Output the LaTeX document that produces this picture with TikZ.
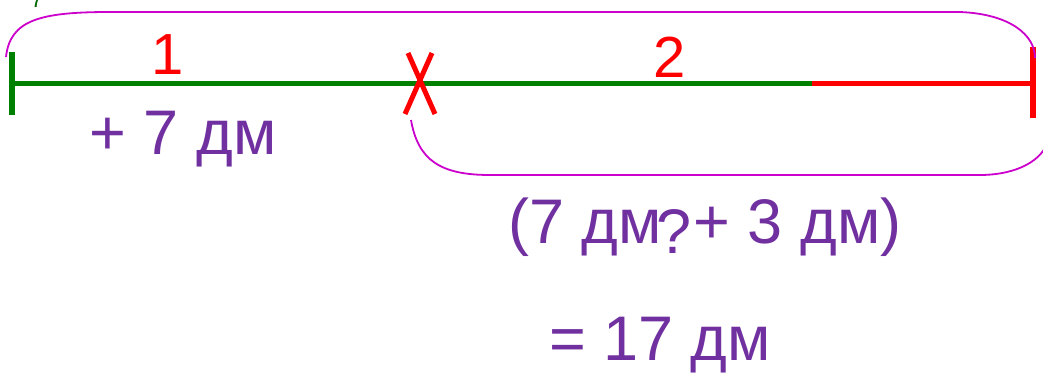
\documentclass[tikz,border=0pt]{standalone}
\usepackage{fontspec}
\setmainfont{Liberation Sans}
\definecolor{linegreen}{RGB}{0,128,0}
\definecolor{markred}{RGB}{255,0,0}
\definecolor{bracemag}{RGB}{204,0,204}
\definecolor{textpurple}{RGB}{112,48,160}
\tikzset{
  segment/.style={line width=5pt},
  tick/.style={line width=6pt},
  brace/.style={bracemag, line width=1.8pt},
  bigtext/.style={font=\fontsize{58}{60}\selectfont, inner sep=0pt},
  val/.style={bigtext, textpurple, font=\fontsize{63}{66}\selectfont},
  num/.style={bigtext, markred}
}
\begin{document}
\begin{tikzpicture}[x=1pt, y=-1pt]
  \useasboundingbox (0,0) rectangle (1043,374);

  % main segment
  \coordinate (L) at (12,84);
  \coordinate (M) at (812,84);
  \coordinate (R) at (1033,84);
  \draw[segment, linegreen] (L) -- (M);
  \draw[segment, markred] (M) -- (R);
  \draw[tick, linegreen] (12,52) -- (12,115);
  \draw[tick, markred] (1033,47) -- (1033,118);

  % cut mark
  \draw[segment, markred] (408,53) -- (435,114)
                          (432,53) -- (405,114);

  % braces
  \draw[brace] (6,57) .. controls (10,20) and (40,12) .. (110,12)
    -- (960,12) .. controls (1010,14) and (1035,35) .. (1035,58);
  \draw[brace] (411,120) .. controls (418,160) and (440,175) .. (490,175)
    -- (980,175) .. controls (1010,175) and (1035,165) .. (1045,148);

  % labels
  \node[num] (one) at (168,55) {1};
  \node[num] (two) at (670,57) {2};
  \node[font=\fontsize{22}{24}\selectfont, linegreen!80!black, anchor=base] (cut) at (37,8) {7};
  \node[val] (plus) at (183,139) {+ 7 дм};
  \node[val] (sum) at (705,227) {(7 дм\hspace{0.5em}+ 3 дм)};
  \node[val] (ask) at (674,232) {?};
  \node[val] (total) at (660,345) {= 17 дм};
\end{tikzpicture}
\end{document}
